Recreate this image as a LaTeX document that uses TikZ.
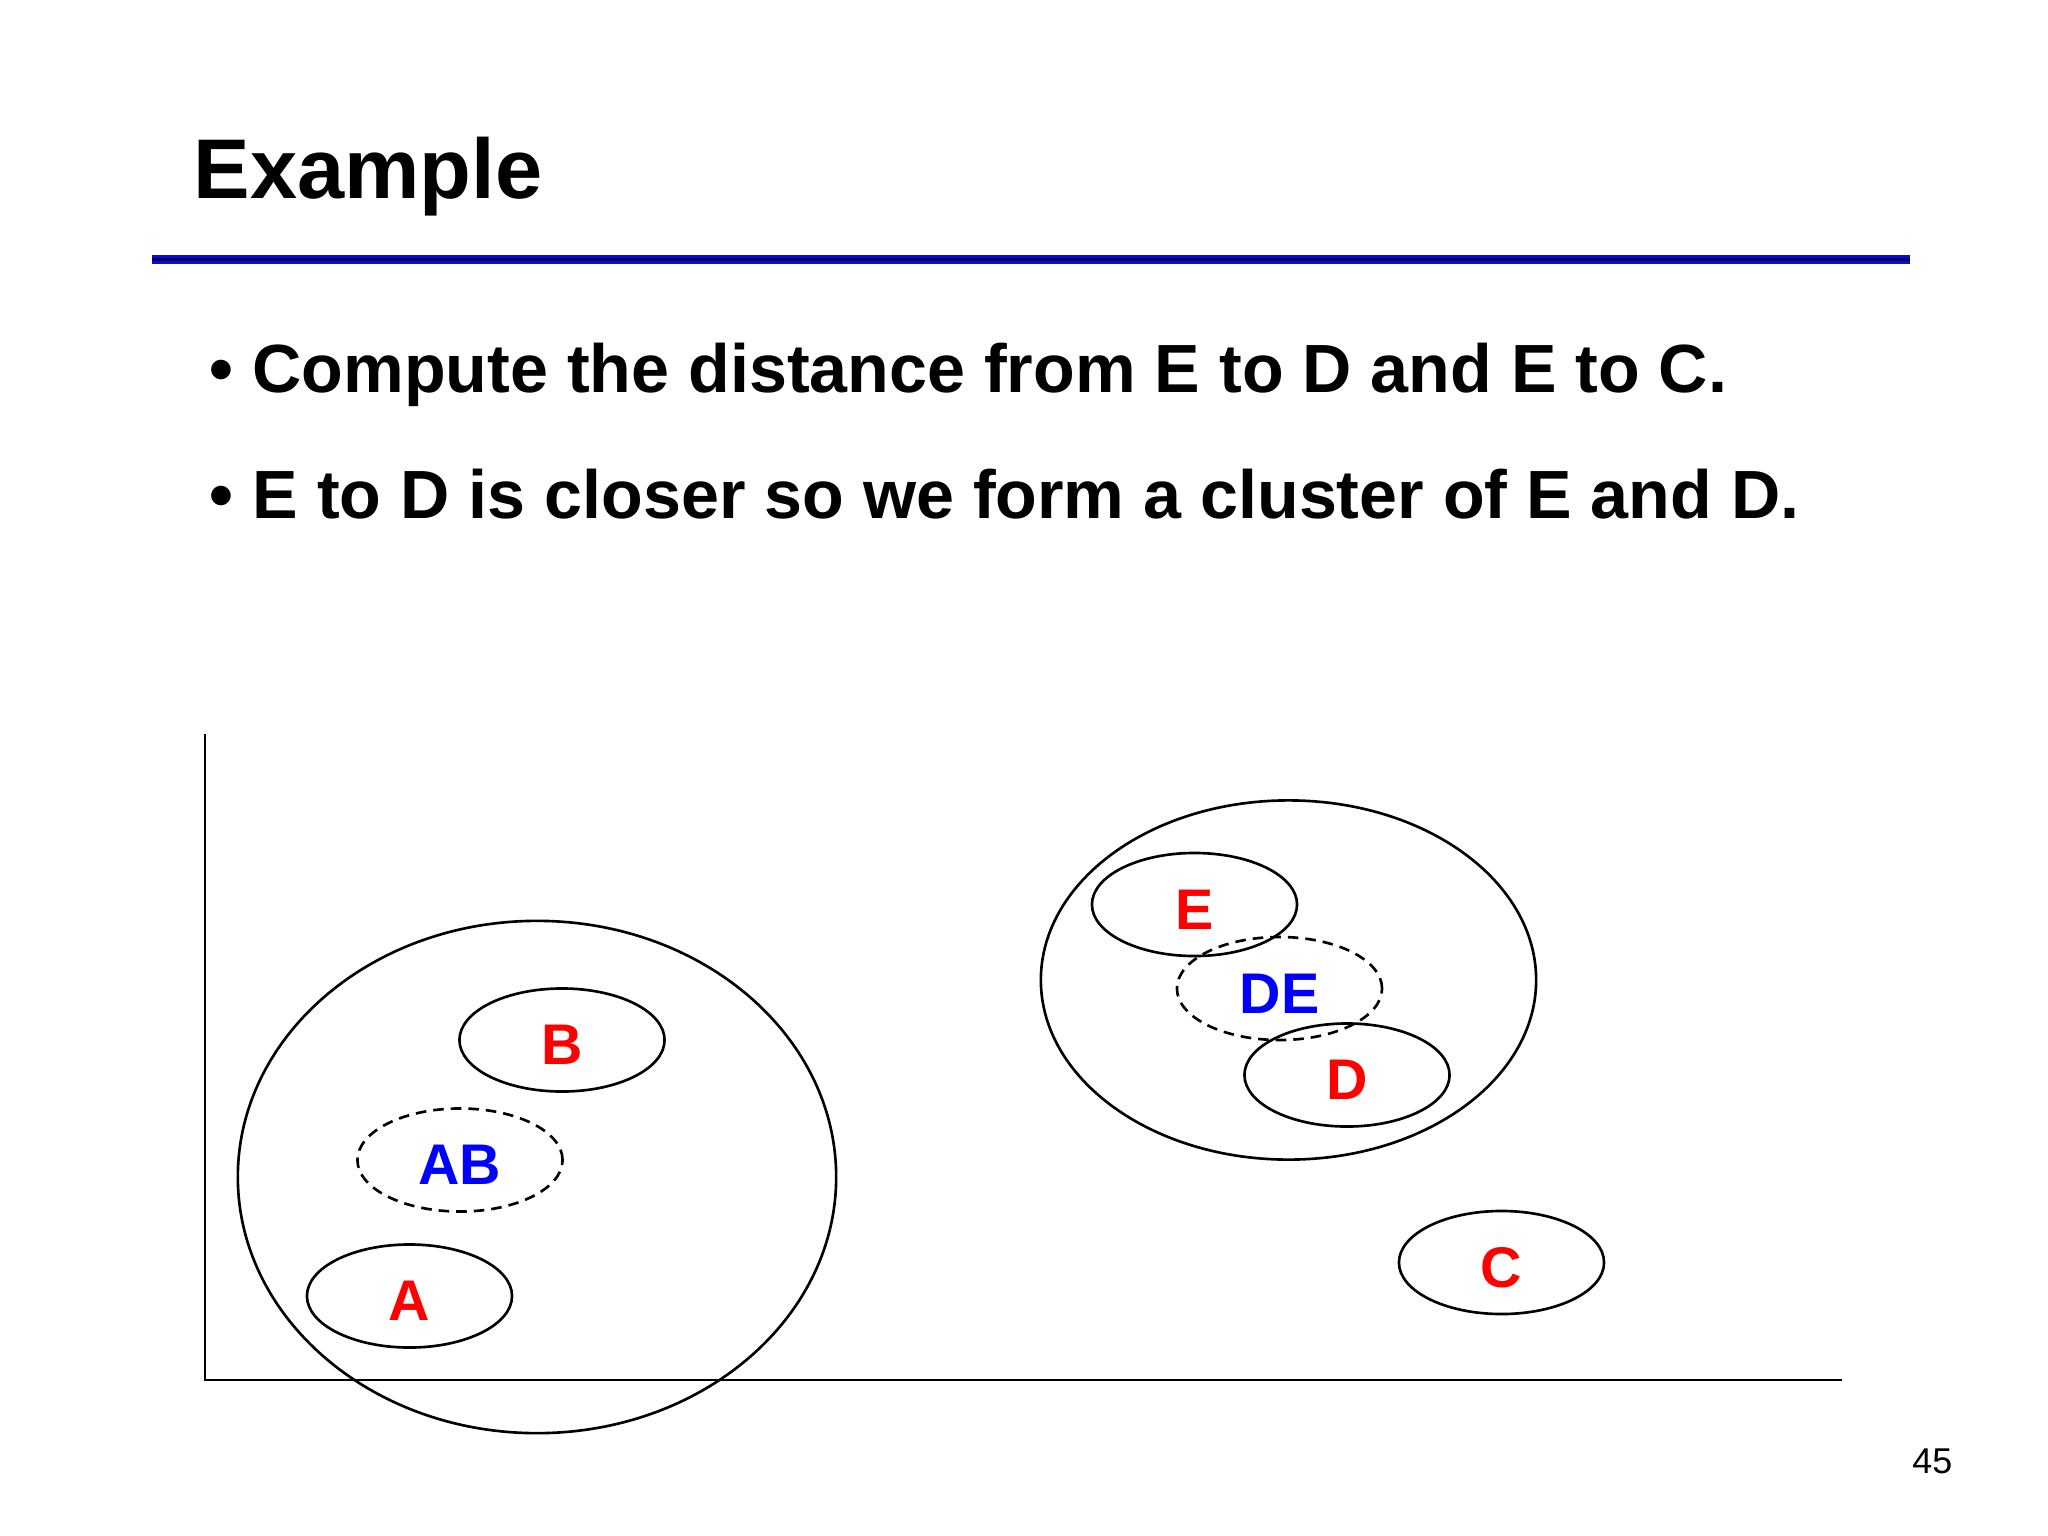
\documentclass[tikz,border=0pt]{standalone}
\usepackage{fontspec}
\setmainfont{Liberation Sans}
\usetikzlibrary{shapes.geometric}
\definecolor{rulblue}{RGB}{10,10,220}
\definecolor{rulnavy}{RGB}{0,0,90}
\definecolor{lblred}{RGB}{255,0,0}
\definecolor{lblblue}{RGB}{0,0,255}
\tikzset{
  clus/.style={ellipse, draw=black, line width=0.75pt, inner sep=0pt},
  small/.style={clus, minimum width=2.05cm, minimum height=1.03cm, text height=14pt, text depth=0pt},
  dashclus/.style={small, dash pattern=on 3pt off 2pt},
  ptlbl/.style={text=lblred, font=\fontsize{16.3}{18}\selectfont\bfseries},
  grplbl/.style={text=lblblue, font=\fontsize{16.3}{18}\selectfont\bfseries},
  bullettxt/.style={anchor=base west, inner sep=0pt, font=\fontsize{19.4}{22}\selectfont\bfseries},
}
\begin{document}
\begin{tikzpicture}[x=0.01cm, y=-0.01cm]
\useasboundingbox (0,0) rectangle (2048,1536);
\fill[white] (0,0) rectangle (2048,1536);
% title
\node[anchor=base west, inner sep=0pt, font=\fontsize{24.1}{28}\selectfont\bfseries] (title) at (193,198) {Example};
\coordinate (rl) at (152,259.5);
\coordinate (rr) at (1910,259.5);
\draw[rulblue, line width=2.6pt] (rl) -- (rr);
\draw[rulnavy, line width=0.9pt] (rl) -- (rr);
% bullets
\node[bullettxt] (b1) at (209,392) {•};
\node[bullettxt] (t1) at (252,392) {Compute the distance from E to D and E to C.};
\node[bullettxt] (b2) at (209,518) {•};
\node[bullettxt] (t2) at (252,518) {E to D is closer so we form a cluster of E and D.};
% axes
\coordinate (ytop) at (205,734);
\coordinate (orig) at (205,1380);
\coordinate (xend) at (1842,1380);
\draw[line width=0.65pt] (ytop) -- (orig) -- (xend);
% left cluster
\node[clus, minimum width=5.98cm, minimum height=5.12cm] (big1) at (537,1177) {};
\node[small, ptlbl] (B) at (562,1040) {B};
\node[dashclus, grplbl] (AB) at (460,1160) {AB};
\node[small, ptlbl] (A) at (409.5,1296) {A};
% right cluster
\node[clus, minimum width=4.95cm, minimum height=3.59cm] (big2) at (1288.5,980) {};
\node[small, ptlbl] (E) at (1194.5,904.5) {E};
\node[dashclus, grplbl] (DE) at (1279.5,988.5) {DE};
\node[small, ptlbl] (D) at (1347,1075) {D};
\node[small, ptlbl] (C) at (1501.5,1262.5) {C};
% page number
\node[anchor=base east, inner sep=0pt, font=\fontsize{10.2}{12}\selectfont] (pg) at (1953,1473) {45};
\end{tikzpicture}
\end{document}
